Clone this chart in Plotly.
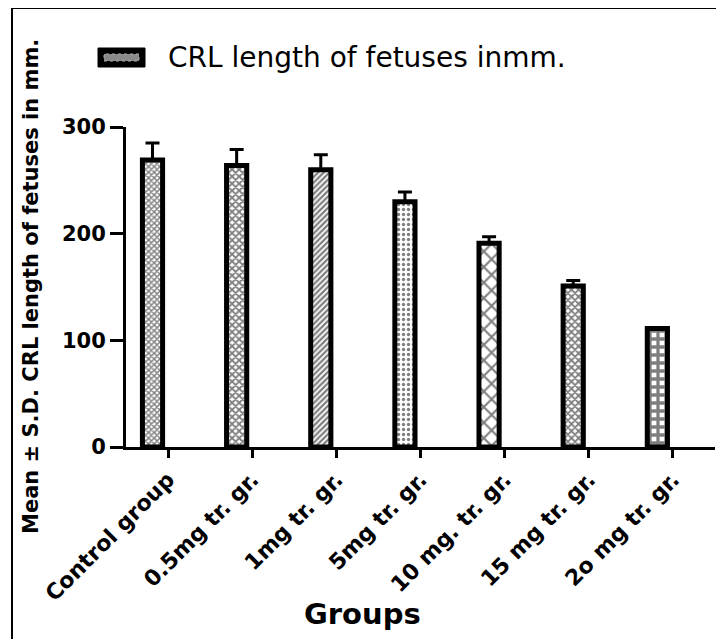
import plotly.graph_objects as go

groups = ["Control group", "0.5mg tr. gr.", "1mg tr. gr.", "5mg tr. gr.",
          "10 mg. tr. gr.", "15 mg tr. gr.", "2o mg tr. gr."]
mean_crl = [269, 264, 260, 230, 191, 151, 111]
sd_crl = [16, 15, 14, 9, 6, 5, 1]
y_ticks = [0, 100, 200, 300]

pattern_shapes = ["x", "x", "/", ".", "x", "x", "+"]
pattern_sizes = [4, 5, 4, 5, 11, 5, 8]
pattern_solid = [0.6, 0.6, 0.55, 0.35, 0.35, 0.6, 0.65]

FONT = "DejaVu Sans"

fig = go.Figure()
fig.add_trace(go.Bar(
    x=groups, y=mean_crl,
    name="CRL length of fetuses inmm.",
    width=0.24, offset=-0.305,
    marker=dict(color="white",
                line=dict(color="black", width=5),
                pattern=dict(shape=pattern_shapes, size=pattern_sizes,
                             solidity=pattern_solid, fgcolor="black",
                             bgcolor="white", fillmode="overlay")),
    error_y=dict(type="data", array=sd_crl, arrayminus=[0] * len(sd_crl),
                 symmetric=False, color="black", thickness=3, width=7),
    showlegend=False,
))

# page has an 8px body margin; all page coordinates below are compensated
PAGE_OFF = 8
W, H = 724 - PAGE_OFF, 639 - PAGE_OFF
L, R, T = 126 - PAGE_OFF, 9, 127 - PAGE_OFF
B = H - (447 - PAGE_OFF)
pw, ph = W - L - R, H - T - B


def px(x):
    return (x - PAGE_OFF - L) / pw


def py(y):
    return (H - B - (y - PAGE_OFF)) / ph


shapes = [
    # outer frame
    dict(type="rect", xref="paper", yref="paper", x0=px(12), x1=px(760),
         y0=py(680), y1=py(8), line=dict(color="black", width=2),
         fillcolor="rgba(0,0,0,0)", layer="below"),
    # legend symbol
    dict(type="rect", xref="paper", yref="paper", x0=px(98), x1=px(145),
         y0=py(67), y1=py(48), line=dict(color="black", width=1),
         fillcolor="black"),
    dict(type="rect", xref="paper", yref="paper", x0=px(104), x1=px(139),
         y0=py(61), y1=py(54), line=dict(color="#aaaaaa", width=1, dash="dot"),
         fillcolor="#8a8a8a"),
]

annotations = [
    dict(text="CRL length of fetuses inmm.", xref="paper", yref="paper",
         x=px(166), y=py(57), xanchor="left", yanchor="middle",
         showarrow=False, font=dict(family=FONT, size=28, color="black")),
    dict(text="Groups", xref="paper", yref="paper", x=px(362), y=py(614),
         xanchor="center", yanchor="middle", showarrow=False,
         font=dict(family=FONT, size=29, color="black", weight="bold")),
    dict(text="Mean ± S.D. CRL length of fetuses in mm.", xref="paper",
         yref="paper", x=px(31), y=py(287), xanchor="center",
         yanchor="middle", textangle=-90, showarrow=False,
         font=dict(family=FONT, size=21, color="black", weight="bold")),
]

fig.update_layout(
    width=W, height=H,
    margin=dict(l=L, r=R, t=T, b=B, autoexpand=False),
    paper_bgcolor="white", plot_bgcolor="white",
    shapes=shapes, annotations=annotations,
)
fig.update_xaxes(
    type="category", range=[-0.5, 6.5],
    showline=True, linecolor="black", linewidth=3,
    ticks="outside", ticklen=8, tickwidth=3, tickcolor="black",
    tickangle=-45, showgrid=False, zeroline=False,
    tickfont=dict(family=FONT, size=22, color="black", weight="bold"),
)
fig.update_yaxes(
    range=[0, 300], tickvals=y_ticks,
    showline=True, linecolor="black", linewidth=3,
    ticks="outside", ticklen=13, tickwidth=3, tickcolor="black",
    showgrid=False, zeroline=False,
    tickfont=dict(family=FONT, size=21, color="black", weight="bold"),
)

fig.write_html("out.html")
